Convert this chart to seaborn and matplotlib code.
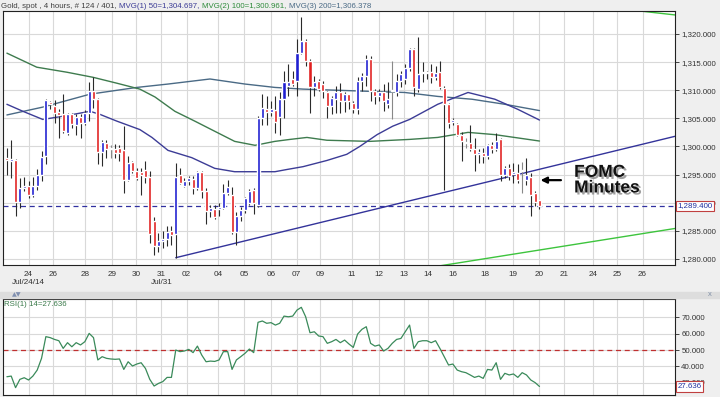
import numpy as np
import pandas as pd
import matplotlib
matplotlib.use("Agg")
import matplotlib.pyplot as plt
import matplotlib.patheffects as pe
from matplotlib.patches import Rectangle
import seaborn as sns

# %% values: gold spot, 4h bars
opens = [1297.9, 1297.4, 1297.5, 1290.2, 1292.6, 1292.9, 1291.4, 1292.9, 1295.0, 1298.3,
         1307.9, 1307.2, 1306.2, 1305.8, 1302.4, 1305.7, 1303.9, 1305.2, 1304.2, 1306.0,
         1309.9, 1308.4, 1299.0, 1300.6, 1299.5, 1299.5, 1299.8, 1299.3, 1294.1, 1297.3,
         1295.7, 1295.5, 1295.8, 1294.5, 1286.8, 1282.2, 1283.1, 1283.5, 1284.9, 1284.4,
         1294.9, 1292.9, 1293.8, 1294.2, 1292.6, 1295.4, 1292.0, 1288.5, 1288.9, 1288.8,
         1289.0, 1291.7, 1291.4, 1284.8, 1287.6, 1288.7, 1289.9, 1292.3, 1289.6, 1305.1,
         1306.6, 1306.2, 1306.4, 1305.2, 1308.4, 1310.8, 1312.0, 1311.7, 1316.7, 1318.7,
         1315.2, 1310.5, 1311.7, 1311.1, 1309.6, 1307.2, 1308.4, 1309.6, 1308.1, 1309.3,
         1307.8, 1306.6, 1311.7, 1312.6, 1315.5, 1309.9, 1309.0, 1309.6, 1307.5, 1309.9,
         1309.6, 1311.7, 1312.0, 1314.0, 1317.3, 1310.2, 1313.1, 1313.0, 1313.2, 1312.3,
         1313.2, 1310.4, 1307.5, 1304.4, 1304.0, 1302.1, 1300.6, 1300.6, 1299.5, 1298.6,
         1298.9, 1298.3, 1300.2, 1299.5, 1301.3, 1295.0, 1296.2, 1295.1, 1295.3, 1295.6,
         1294.1, 1294.5, 1291.7, 1290.4]
highs = [1299.8, 1301.2, 1297.7, 1294.4, 1294.5, 1293.8, 1294.5, 1295.9, 1299.2, 1308.4,
         1308.1, 1308.2, 1306.6, 1309.3, 1306.0, 1306.0, 1305.7, 1305.7, 1306.4, 1311.4,
         1312.4, 1308.7, 1301.2, 1301.1, 1300.2, 1300.4, 1300.2, 1303.6, 1298.3, 1297.4,
         1296.2, 1296.2, 1297.4, 1295.6, 1287.4, 1284.6, 1285.0, 1285.8, 1285.9, 1297.1,
         1296.1, 1294.3, 1294.7, 1294.7, 1295.6, 1295.6, 1292.6, 1289.6, 1289.6, 1289.9,
         1293.3, 1294.1, 1292.7, 1288.4, 1289.3, 1291.0, 1292.5, 1292.6, 1305.4, 1309.4,
         1309.0, 1308.1, 1309.0, 1309.6, 1313.5, 1314.6, 1313.4, 1319.1, 1323.0, 1319.1,
         1315.5, 1312.6, 1312.0, 1311.7, 1309.9, 1309.0, 1310.8, 1311.2, 1309.6, 1309.4,
         1308.1, 1312.3, 1313.0, 1316.3, 1316.1, 1310.2, 1310.2, 1311.1, 1311.4, 1315.2,
         1312.9, 1313.5, 1314.6, 1317.6, 1317.6, 1319.4, 1315.0, 1313.5, 1314.6, 1314.3,
         1315.2, 1310.8, 1307.8, 1305.1, 1304.2, 1302.6, 1301.5, 1303.9, 1301.5, 1299.5,
         1299.8, 1300.4, 1300.7, 1302.4, 1301.5, 1296.5, 1296.8, 1297.1, 1296.8, 1297.3,
         1298.0, 1295.3, 1292.0, 1290.5]
lows = [1295.0, 1294.4, 1287.6, 1289.0, 1292.0, 1290.8, 1291.0, 1292.3, 1293.8, 1296.9,
        1306.6, 1304.2, 1301.5, 1302.4, 1302.1, 1303.3, 1302.1, 1301.5, 1303.9, 1304.5,
        1306.9, 1296.8, 1296.5, 1298.0, 1298.0, 1298.0, 1297.4, 1291.7, 1293.8, 1295.3,
        1294.1, 1291.4, 1293.5, 1282.8, 1280.7, 1281.3, 1282.0, 1282.2, 1282.5, 1280.1,
        1293.3, 1292.7, 1293.2, 1291.5, 1292.3, 1290.8, 1286.2, 1287.4, 1287.1, 1287.7,
        1288.8, 1291.3, 1284.4, 1282.5, 1286.7, 1288.2, 1289.6, 1287.9, 1289.3, 1303.9,
        1303.9, 1305.4, 1302.4, 1302.1, 1305.0, 1309.0, 1310.8, 1309.0, 1316.4, 1314.3,
        1306.0, 1309.0, 1309.9, 1308.7, 1305.1, 1305.7, 1306.0, 1306.0, 1306.2, 1306.6,
        1306.0, 1305.7, 1309.9, 1310.8, 1308.1, 1307.5, 1308.1, 1306.3, 1306.9, 1304.8,
        1309.0, 1310.5, 1311.1, 1313.5, 1309.0, 1309.6, 1311.4, 1312.0, 1311.2, 1311.8,
        1310.2, 1292.3, 1303.3, 1303.9, 1301.9, 1297.4, 1299.8, 1299.2, 1295.6, 1297.1,
        1297.1, 1297.7, 1298.9, 1299.2, 1293.8, 1294.4, 1294.1, 1293.5, 1293.5, 1291.7,
        1293.2, 1287.6, 1289.4, 1288.8]
closes = [1297.6, 1297.8, 1290.2, 1292.6, 1293.0, 1291.4, 1292.9, 1295.0, 1298.1, 1308.2,
          1307.6, 1306.0, 1305.6, 1302.7, 1305.8, 1304.0, 1305.2, 1304.2, 1306.0, 1309.9,
          1308.4, 1299.0, 1300.8, 1299.5, 1299.5, 1298.9, 1298.9, 1294.1, 1297.1, 1295.6,
          1294.4, 1295.0, 1294.5, 1284.4, 1282.2, 1283.1, 1283.5, 1284.8, 1284.3, 1294.5,
          1293.5, 1293.8, 1294.3, 1292.6, 1295.4, 1292.0, 1288.5, 1289.0, 1287.4, 1289.2,
          1291.7, 1292.7, 1284.8, 1287.6, 1288.7, 1290.8, 1292.0, 1290.0, 1305.1, 1306.9,
          1306.2, 1306.6, 1304.4, 1308.4, 1311.4, 1311.5, 1311.1, 1316.7, 1318.7, 1315.2,
          1310.5, 1311.5, 1310.2, 1309.9, 1307.2, 1308.6, 1309.6, 1308.1, 1309.3, 1308.0,
          1306.6, 1311.7, 1312.6, 1315.5, 1309.9, 1309.0, 1309.6, 1308.1, 1308.4, 1309.9,
          1311.7, 1312.9, 1314.0, 1317.3, 1310.5, 1312.9, 1313.3, 1313.2, 1312.3, 1313.0,
          1310.5, 1307.5, 1304.2, 1304.7, 1302.1, 1301.0, 1300.7, 1299.5, 1298.6, 1299.0,
          1298.3, 1300.2, 1299.5, 1301.0, 1295.0, 1296.1, 1294.7, 1295.5, 1294.1, 1295.6,
          1295.0, 1291.4, 1290.2, 1289.4]

rsi = [33.6, 34.0, 26.9, 32.0, 33.0, 31.6, 34.0, 37.7, 44.9, 58.2,
       57.6, 56.5, 55.7, 51.0, 54.5, 52.0, 54.5, 53.1, 55.1, 60.2,
       57.6, 43.9, 45.9, 44.9, 44.5, 44.3, 44.5, 38.1, 42.8, 40.2,
       41.4, 42.2, 38.7, 32.0, 27.9, 29.5, 30.6, 33.2, 33.2, 50.0,
       49.0, 49.4, 50.4, 48.4, 52.4, 46.9, 42.8, 43.2, 43.0, 43.9,
       49.0, 49.0, 38.1, 43.9, 45.9, 48.0, 50.6, 48.4, 67.0, 67.8,
       66.4, 66.8, 65.3, 66.4, 70.8, 70.4, 70.8, 74.5, 76.2, 70.4,
       60.6, 61.2, 58.6, 58.2, 54.1, 55.1, 56.5, 54.5, 56.1, 53.7,
       51.6, 59.8, 62.7, 64.3, 54.1, 52.4, 53.1, 49.4, 51.0, 54.1,
       56.5, 57.1, 61.2, 65.3, 51.0, 55.1, 55.7, 55.7, 54.5, 55.7,
       51.0, 45.9, 40.8, 41.4, 37.7, 36.7, 36.1, 34.7, 33.2, 34.0,
       32.6, 38.1, 37.7, 42.2, 32.0, 35.7, 34.7, 35.3, 33.2, 36.1,
       34.7, 31.6, 30.0, 27.636]

# moving averages, read at a few bars along each curve
ma50_bar = [0, 3.7, 8.3, 13.9, 19.2, 21.5, 25.4, 30.7, 33.5, 37.2, 42.7, 48, 52.6, 57.3,
            61.9, 64.7, 68.4, 73.9, 78.5, 81.5, 85.5, 89.1, 93, 99.5, 106.5, 112.7, 118, 123]
ma50_val = [1307.5, 1306.25, 1304.8, 1305.5, 1306.25, 1305.7, 1304.5, 1303.0, 1301.6, 1299.3,
            1298.0, 1296.1, 1295.5, 1295.5, 1295.5, 1295.9, 1296.4, 1297.5, 1298.6, 1300.0,
            1302.1, 1303.6, 1304.8, 1307.5, 1309.6, 1308.4, 1306.6, 1304.697]
ma100_bar = [0, 6.9, 13.9, 19.9, 25.4, 30.7, 34.2, 38.8, 43.4, 48, 52.6, 57.3, 61.9, 65.4,
             69.3, 73.9, 83.8, 93, 99.5, 106.5, 112.7, 123]
ma100_val = [1316.6, 1314.1, 1313.2, 1312.3, 1311.25, 1310.2, 1308.8, 1306.25, 1304.5, 1302.7,
             1300.9, 1300.2, 1300.9, 1301.25, 1301.6, 1301.1, 1300.9, 1301.25, 1301.6, 1302.5,
             1302.1, 1300.961]
ma200_bar = [0, 8.3, 19.2, 30, 37.2, 46.9, 55, 61.9, 68.4, 76.2, 83.8, 91.9, 99.5, 107.4, 115, 123]
ma200_val = [1305.6, 1307.0, 1309.3, 1310.5, 1311.1, 1312.0, 1311.1, 1310.5, 1310.2, 1310.0,
             1309.8, 1309.6, 1308.9, 1308.4, 1307.5, 1306.378]

# drawn trend lines (bar, price)
trend_bar = [39, 154.3]
trend_px = [1280.2, 1301.8]
green_low_bar = [100, 154.3]
green_low_px = [1278.75, 1285.4]
green_top_bar = [146.2, 154.3]
green_top_px = [1324.1, 1323.4]

last_price = 1289.4
last_rsi = 27.636

day_labels = ["24\nJul/24/14", "26", "28", "29", "30", "31\nJul/31", "02", "04", "05", "06",
              "07", "09", "11", "12", "13", "14", "16", "18", "19", "20", "21", "24", "25", "26"]
day_pos = [5.0, 10.6, 18.0, 24.2, 29.8, 35.7, 41.5, 48.8, 54.8, 61.0, 66.9, 72.4, 79.6, 86.0,
           91.7, 97.3, 103.0, 110.5, 116.9, 123.0, 128.6, 135.3, 140.9, 146.8]

price_ticks = [1280, 1285, 1290, 1295, 1300, 1305, 1310, 1315, 1320]
rsi_ticks = [30, 40, 50, 60, 70]

# %%
sns.set_style("white")
plt.rcParams["font.family"] = ["Liberation Sans", "DejaVu Sans"]

df = pd.DataFrame({"open": opens, "high": highs, "low": lows, "close": closes, "rsi": rsi})
df["bar"] = np.arange(len(df))

BG = "#efefef"
GRID = "#d9d9d9"
TXT = "#333333"
FS = 5.7
C50, C100, C200 = "#3c3c96", "#3e7b4e", "#4a6a85"

fig = plt.figure(figsize=(7.2, 3.97), dpi=100, facecolor=BG)
ax = fig.add_axes([3 / 720, 1 - 265 / 397, 672 / 720, 254 / 397])
ax2 = fig.add_axes([3 / 720, 1 - 395 / 397, 672 / 720, 96 / 397])
fig.patches.append(Rectangle((0, 1 - 298 / 397), 1, 6 / 397, transform=fig.transFigure,
                             color="#dddddd", zorder=0))

xlim = (-0.9, 154.3)
for a in (ax, ax2):
    a.set_facecolor("white")
    a.set_axisbelow(True)
    a.set_xlim(*xlim)
    a.set_xticks(day_pos)
    a.grid(color=GRID, lw=0.8)
    for s in a.spines.values():
        s.set_color("#222222")
        s.set_linewidth(0.8)
    a.tick_params(axis="y", left=False, right=True, labelleft=False, labelright=True,
                  length=3, width=0.6, labelsize=FS, labelcolor=TXT, pad=1.5)
    a.tick_params(axis="x", length=0, labelsize=FS + 0.2, labelcolor=TXT, pad=4)

# candles
up = df.close >= df.open
doji = (df.close - df.open).abs() < 0.2
body_col = np.where(doji, "#888888", np.where(up, "#1f1fd0", "#e02020"))
wick_col = np.where(doji, "#888888", "#2a2a2a")
ax.vlines(df.bar, df.low, df.high, colors=wick_col, lw=0.8, zorder=3)
ax.bar(df.bar, (df.close - df.open).abs().clip(lower=0.18),
       bottom=df[["open", "close"]].min(axis=1), width=0.7, color=body_col, zorder=4)

# moving averages
sns.lineplot(x=ma200_bar, y=ma200_val, ax=ax, color=C200, lw=1.0, zorder=2)
sns.lineplot(x=ma100_bar, y=ma100_val, ax=ax, color=C100, lw=1.0, zorder=2)
sns.lineplot(x=ma50_bar, y=ma50_val, ax=ax, color=C50, lw=1.0, zorder=2)

# trend lines
sns.lineplot(x=trend_bar, y=trend_px, ax=ax, color="#33339a", lw=1.0, zorder=2)
sns.lineplot(x=green_low_bar, y=green_low_px, ax=ax, color="#3dc43d", lw=1.0, zorder=2)
sns.lineplot(x=green_top_bar, y=green_top_px, ax=ax, color="#3dc43d", lw=1.0, zorder=2)
ax.axhline(last_price, color="#3030a0", ls=(0, (4, 3)), lw=0.9, zorder=2)

ax.set_ylim(1278.9, 1324.1)
ax.set_yticks(price_ticks)
ax.set_yticklabels([f"{v:,.3f}" for v in price_ticks])
ax.set_xticklabels(day_labels, linespacing=1.3)
ax.set_xlabel("")
ax.set_ylabel("")
ax.text(1.0035, last_price, f"{last_price:,.3f}", transform=ax.get_yaxis_transform(),
        ha="left", va="center", fontsize=FS, color="#2030a0", zorder=10, clip_on=False,
        bbox=dict(boxstyle="square,pad=0.2", fc="white", ec="#c04040", lw=0.8))

# annotation
ax.annotate("", xy=(122.6, 1294.0), xytext=(128.6, 1294.0),
            arrowprops=dict(arrowstyle="-|>", color="black", lw=1.6, mutation_scale=9))
ax.text(131.0, 1294.0, "FOMC\nMinutes", ha="left", va="center", fontsize=12.5,
        fontweight="bold", family="Liberation Sans", linespacing=1.05, color="#111111",
        path_effects=[pe.withSimplePatchShadow(offset=(1.5, -1.5), shadow_rgbFace="#777777",
                                               alpha=0.7)])

# RSI panel
sns.lineplot(x=df.bar, y=df.rsi, ax=ax2, color="#3a8a5a", lw=0.9, zorder=3)
ax2.axhline(50, color="#c03030", ls=(0, (4, 3)), lw=0.9, zorder=2)
ax2.set_ylim(22.4, 81.3)
ax2.set_yticks(rsi_ticks)
ax2.set_yticklabels([f"{v:.3f}" for v in rsi_ticks])
ax2.set_xticklabels([])
ax2.set_xlabel("")
ax2.set_ylabel("")
ax2.text(0.002, 0.975, f"RSI(1) 14={last_rsi:.3f}", transform=ax2.transAxes, ha="left",
         va="top", fontsize=FS, color="#3a7a4a")
ax2.text(1.0035, last_rsi, f"{last_rsi:.3f}", transform=ax2.get_yaxis_transform(),
         ha="left", va="center", fontsize=FS, color="#2030a0", zorder=10, clip_on=False,
         bbox=dict(boxstyle="square,pad=0.2", fc="white", ec="#c04040", lw=0.8))

# header line, one coloured piece after another
parts = [("Gold, spot , 4 hours, # 124 / 401, ", "#404040"),
         (f"MVG(1) 50={ma50_val[-1]:,.3f}, ", C50),
         (f"MVG(2) 100={ma100_val[-1]:,.3f}, ", "#2e8b3a"),
         (f"MVG(3) 200={ma200_val[-1]:,.3f}", C200)]
prev = fig.text(0.002, 1 - 6 / 397, parts[0][0], fontsize=FS, color=parts[0][1], va="center")
for txt, col in parts[1:]:
    prev = ax.annotate(txt, xy=(1, 0.5), xycoords=prev, va="center", ha="left",
                       fontsize=FS, color=col, annotation_clip=False)

fig.text(12 / 720, 1 - 295 / 397, "\u25b2\u25bc", fontsize=4.5, color="#7f8fb0", va="center",
         family="DejaVu Sans")
fig.text(708 / 720, 1 - 295 / 397, "x", fontsize=5.5, color="#8090a8", va="center")

fig.savefig("out.png", dpi=100, facecolor=BG)
